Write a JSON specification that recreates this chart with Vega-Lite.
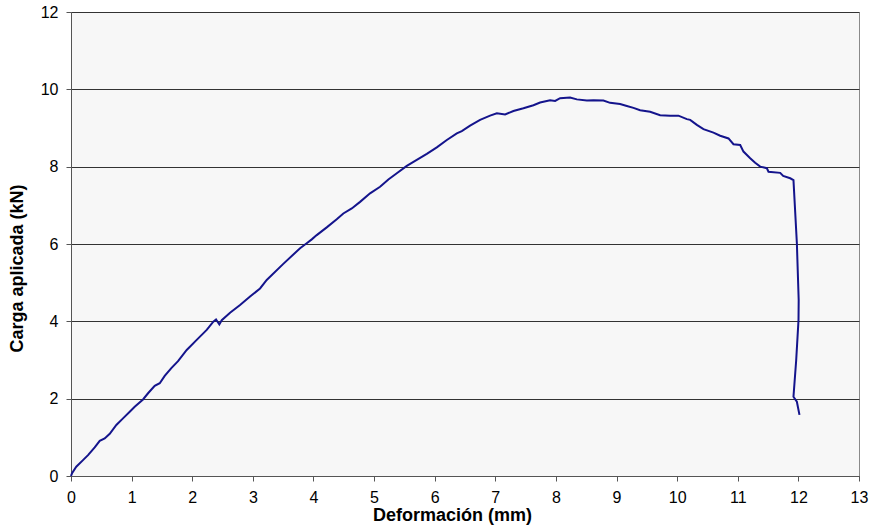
{
  "$schema": "https://vega.github.io/schema/vega-lite/v6.json",
  "width": 788,
  "height": 464,
  "autosize": {"type": "none"},
  "padding": {"left": 71, "top": 12, "right": 14, "bottom": 54},
  "background": "white",
  "config": {
    "font": "Liberation Sans",
    "view": {"fill": "#f7f7f7", "stroke": "#8a8a8a", "strokeWidth": 1},
    "axis": {
      "labelFont": "Liberation Sans",
      "titleFont": "Liberation Sans",
      "labelFontSize": 16,
      "titleFontSize": 18,
      "titleFontWeight": "bold",
      "labelColor": "#000",
      "titleColor": "#000",
      "domainColor": "#555",
      "tickColor": "#555",
      "tickSize": 5
    }
  },
  "data": {
    "values": [
      {"i": 1, "d": 0, "c": 0},
      {"i": 2, "d": 0.017, "c": 0.07},
      {"i": 3, "d": 0.087, "c": 0.24},
      {"i": 4, "d": 0.198, "c": 0.41},
      {"i": 5, "d": 0.281, "c": 0.54},
      {"i": 6, "d": 0.391, "c": 0.74},
      {"i": 7, "d": 0.474, "c": 0.91},
      {"i": 8, "d": 0.556, "c": 0.97},
      {"i": 9, "d": 0.639, "c": 1.09},
      {"i": 10, "d": 0.748, "c": 1.32},
      {"i": 11, "d": 0.858, "c": 1.49},
      {"i": 12, "d": 0.969, "c": 1.66},
      {"i": 13, "d": 1.051, "c": 1.79},
      {"i": 14, "d": 1.188, "c": 1.98},
      {"i": 15, "d": 1.271, "c": 2.14},
      {"i": 16, "d": 1.381, "c": 2.33},
      {"i": 17, "d": 1.464, "c": 2.40},
      {"i": 18, "d": 1.546, "c": 2.59},
      {"i": 19, "d": 1.655, "c": 2.79},
      {"i": 20, "d": 1.766, "c": 2.97},
      {"i": 21, "d": 1.909, "c": 3.26},
      {"i": 22, "d": 2.074, "c": 3.52},
      {"i": 23, "d": 2.239, "c": 3.78},
      {"i": 24, "d": 2.348, "c": 3.99},
      {"i": 25, "d": 2.393, "c": 4.05},
      {"i": 26, "d": 2.447, "c": 3.92},
      {"i": 27, "d": 2.487, "c": 4.03},
      {"i": 28, "d": 2.624, "c": 4.22},
      {"i": 29, "d": 2.789, "c": 4.42},
      {"i": 30, "d": 2.954, "c": 4.64},
      {"i": 31, "d": 3.119, "c": 4.85},
      {"i": 32, "d": 3.229, "c": 5.07},
      {"i": 33, "d": 3.498, "c": 5.48},
      {"i": 34, "d": 3.779, "c": 5.89},
      {"i": 35, "d": 3.889, "c": 6.02},
      {"i": 36, "d": 3.972, "c": 6.12},
      {"i": 37, "d": 4.054, "c": 6.23},
      {"i": 38, "d": 4.219, "c": 6.43},
      {"i": 39, "d": 4.384, "c": 6.64},
      {"i": 40, "d": 4.493, "c": 6.79},
      {"i": 41, "d": 4.632, "c": 6.92},
      {"i": 42, "d": 4.769, "c": 7.09},
      {"i": 43, "d": 4.934, "c": 7.31},
      {"i": 44, "d": 5.099, "c": 7.48},
      {"i": 45, "d": 5.236, "c": 7.67},
      {"i": 46, "d": 5.375, "c": 7.83},
      {"i": 47, "d": 5.540, "c": 8.02},
      {"i": 48, "d": 5.677, "c": 8.15},
      {"i": 49, "d": 5.870, "c": 8.33},
      {"i": 50, "d": 6.035, "c": 8.50},
      {"i": 51, "d": 6.200, "c": 8.69},
      {"i": 52, "d": 6.365, "c": 8.86},
      {"i": 53, "d": 6.447, "c": 8.92},
      {"i": 54, "d": 6.584, "c": 9.06},
      {"i": 55, "d": 6.749, "c": 9.21},
      {"i": 56, "d": 6.914, "c": 9.32},
      {"i": 57, "d": 7.025, "c": 9.38},
      {"i": 58, "d": 7.162, "c": 9.35},
      {"i": 59, "d": 7.299, "c": 9.44},
      {"i": 60, "d": 7.464, "c": 9.51},
      {"i": 61, "d": 7.629, "c": 9.59},
      {"i": 62, "d": 7.739, "c": 9.66},
      {"i": 63, "d": 7.904, "c": 9.72},
      {"i": 64, "d": 7.987, "c": 9.70},
      {"i": 65, "d": 8.069, "c": 9.77},
      {"i": 66, "d": 8.234, "c": 9.79},
      {"i": 67, "d": 8.345, "c": 9.74},
      {"i": 68, "d": 8.510, "c": 9.71},
      {"i": 69, "d": 8.619, "c": 9.72},
      {"i": 70, "d": 8.784, "c": 9.71},
      {"i": 71, "d": 8.894, "c": 9.65},
      {"i": 72, "d": 9.059, "c": 9.62},
      {"i": 73, "d": 9.170, "c": 9.57},
      {"i": 74, "d": 9.279, "c": 9.52},
      {"i": 75, "d": 9.389, "c": 9.46},
      {"i": 76, "d": 9.554, "c": 9.42},
      {"i": 77, "d": 9.719, "c": 9.33},
      {"i": 78, "d": 9.884, "c": 9.32},
      {"i": 79, "d": 10.021, "c": 9.32},
      {"i": 80, "d": 10.160, "c": 9.23},
      {"i": 81, "d": 10.215, "c": 9.21},
      {"i": 82, "d": 10.325, "c": 9.08},
      {"i": 83, "d": 10.434, "c": 8.97},
      {"i": 84, "d": 10.599, "c": 8.88},
      {"i": 85, "d": 10.710, "c": 8.80},
      {"i": 86, "d": 10.847, "c": 8.73},
      {"i": 87, "d": 10.929, "c": 8.58},
      {"i": 88, "d": 11.040, "c": 8.56},
      {"i": 89, "d": 11.094, "c": 8.39},
      {"i": 90, "d": 11.205, "c": 8.22},
      {"i": 91, "d": 11.287, "c": 8.10},
      {"i": 92, "d": 11.370, "c": 8.00},
      {"i": 93, "d": 11.480, "c": 7.96},
      {"i": 94, "d": 11.507, "c": 7.87},
      {"i": 95, "d": 11.700, "c": 7.84},
      {"i": 96, "d": 11.749, "c": 7.76},
      {"i": 97, "d": 11.865, "c": 7.70},
      {"i": 98, "d": 11.919, "c": 7.65},
      {"i": 99, "d": 11.975, "c": 6.02},
      {"i": 100, "d": 12.005, "c": 4.55},
      {"i": 101, "d": 12.002, "c": 4.03},
      {"i": 102, "d": 11.964, "c": 3.00},
      {"i": 103, "d": 11.919, "c": 2.05},
      {"i": 104, "d": 11.975, "c": 1.92},
      {"i": 105, "d": 12.018, "c": 1.58}
    ]
  },
  "mark": {"type": "line", "color": "#14148c", "strokeWidth": 2, "interpolate": "linear"},
  "encoding": {
    "x": {
      "field": "d",
      "type": "quantitative",
      "scale": {"domain": [0, 13], "nice": false, "zero": false},
      "axis": {
        "title": "Deformación (mm)",
        "values": [0,1,2,3,4,5,6,7,8,9,10,11,12,13],
        "grid": false,
        "labelPadding": 8,
        "titleX": 381,
        "titleY": 30,
        "labelFlush": false
      }
    },
    "y": {
      "field": "c",
      "type": "quantitative",
      "scale": {"domain": [0, 12], "nice": false},
      "axis": {
        "title": "Carga aplicada (kN)",
        "values": [0,2,4,6,8,10,12],
        "grid": true,
        "gridColor": "#333",
        "gridWidth": 1,
        "gridOpacity": 1,
        "labelPadding": 8,
        "titleX": -45,
        "titleY": 256,
        "labelFlush": false
      }
    },
    "order": {"field": "i", "type": "quantitative"}
  }
}
